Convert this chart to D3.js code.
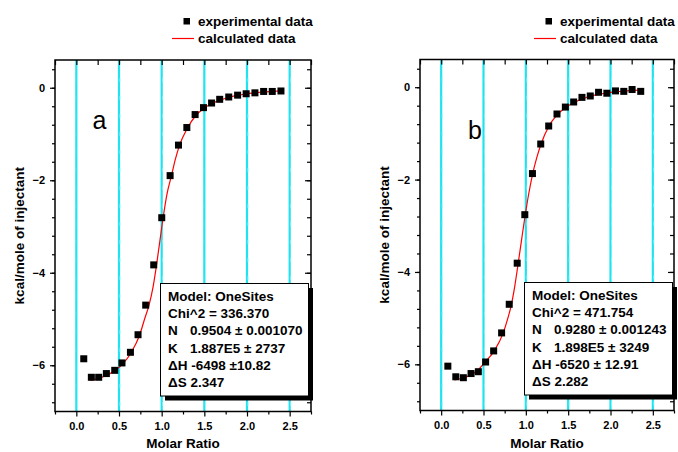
<!DOCTYPE html>
<html>
<head>
<meta charset="utf-8">
<script src="https://cdn.jsdelivr.net/npm/d3@7"></script>
<style>
  body { margin: 0; background: #fff; }
  svg { display: block; font-family: "Liberation Sans", Arial, sans-serif; }
</style>
</head>
<body>
<div id="chart"></div>
<script>
// Experimental points, panel a
const expXA = [0.087, 0.176, 0.262, 0.352, 0.45, 0.535, 0.634, 0.723, 0.813, 0.907,
  1.001, 1.099, 1.197, 1.295, 1.392, 1.49, 1.585, 1.68, 1.786, 1.89, 1.99, 2.093, 2.195, 2.296, 2.398];
const expYA = [-5.86, -6.26, -6.26, -6.18, -6.11, -5.95, -5.72, -5.34, -4.70, -3.83,
  -2.81, -1.90, -1.24, -0.86, -0.58, -0.43, -0.33, -0.25, -0.20, -0.16, -0.13, -0.11, -0.08, -0.08, -0.07];
// Fitted curve, panel a
const calcXA = [0.164, 0.3, 0.45, 0.55, 0.645, 0.743, 0.8, 0.852, 0.9, 0.94, 0.98, 1.017, 1.06, 1.115,
  1.16, 1.21, 1.3, 1.4, 1.5, 1.6, 1.7, 1.8, 1.9, 2.0, 2.1, 2.2, 2.3, 2.4];
const calcYA = [-6.33, -6.26, -6.12, -5.96, -5.72, -5.34, -5.0, -4.70, -4.3, -3.83, -3.3, -2.81, -2.32, -1.90,
  -1.55, -1.24, -0.88, -0.60, -0.44, -0.33, -0.26, -0.20, -0.16, -0.13, -0.11, -0.09, -0.08, -0.07];

// Experimental points, panel b
const expXB = [0.079, 0.173, 0.262, 0.353, 0.439, 0.525, 0.62, 0.714, 0.804, 0.898,
  0.988, 1.078, 1.176, 1.27, 1.368, 1.467, 1.565, 1.663, 1.761, 1.859, 1.957, 2.059, 2.157, 2.255, 2.357];
const expYB = [-6.04, -6.27, -6.29, -6.20, -6.16, -5.95, -5.71, -5.32, -4.70, -3.81,
  -2.76, -1.87, -1.23, -0.84, -0.58, -0.43, -0.32, -0.22, -0.19, -0.11, -0.13, -0.08, -0.09, -0.05, -0.09];
// Fitted curve, panel b
const calcXB = [0.157, 0.3, 0.42, 0.52, 0.627, 0.733, 0.78, 0.83, 0.87, 0.91, 0.95, 0.99, 1.03, 1.08,
  1.13, 1.18, 1.27, 1.37, 1.47, 1.57, 1.67, 1.77, 1.87, 1.97, 2.07, 2.17, 2.27, 2.36];
const calcYB = [-6.34, -6.27, -6.15, -5.95, -5.71, -5.32, -5.05, -4.70, -4.3, -3.81, -3.3, -2.8, -2.35, -1.88,
  -1.52, -1.23, -0.85, -0.60, -0.44, -0.33, -0.25, -0.19, -0.15, -0.12, -0.10, -0.08, -0.07, -0.06];

const xTicks = [0, 0.5, 1.0, 1.5, 2.0, 2.5];
const yTicks = [0, -2, -4, -6];
const statsA = ["Model: OneSites", "Chi^2 = 336.370", ["N", "0.9504 \u00b1 0.001070"], ["K", "1.887E5 \u00b1 2737"], "\u0394H -6498 \u00b110.82", "\u0394S 2.347"];
const statsB = ["Model: OneSites", "Chi^2 = 471.754", ["N", "0.9280 \u00b1 0.001243"], ["K", "1.898E5 \u00b1 3249"], "\u0394H -6520 \u00b1 12.91", "\u0394S 2.282"];

const W = 678, H = 452;
const svg = d3.select("#chart").append("svg").attr("width", W).attr("height", H);

function drawPanel(p) {
  const x = d3.scaleLinear().domain([-0.25, 2.75]).range([p.left, p.right]);
  const y = d3.scaleLinear().domain([-7, 0.6]).range([p.bottom, p.top]);
  const g = svg.append("g");

  // cyan vertical grid lines
  g.selectAll(".grid").data(xTicks).enter().append("line")
    .attr("x1", d => x(d)).attr("x2", d => x(d))
    .attr("y1", p.top).attr("y2", p.bottom)
    .attr("stroke", "#1fe3f0").attr("stroke-width", 2.2);
  g.selectAll(".grid2").data(xTicks).enter().append("line")
    .attr("x1", d => x(d) + 1).attr("x2", d => x(d) + 1)
    .attr("y1", p.top).attr("y2", p.bottom)
    .attr("stroke", "#8ff4fa").attr("stroke-width", 0.8)
    .attr("stroke-dasharray", "4,14");

  // axes
  const fmt = d3.format(".1f");
  g.append("g").attr("transform", `translate(0,${p.bottom})`)
    .call(d3.axisBottom(x).tickValues(xTicks).tickFormat(fmt).tickSize(5).tickPadding(6));
  g.append("g").attr("transform", `translate(0,${p.bottom})`)
    .call(d3.axisBottom(x).tickValues(d3.range(-0.25, 2.8, 0.5)).tickFormat("").tickSize(3));
  g.append("g").attr("transform", `translate(0,${p.top})`)
    .call(d3.axisBottom(x).tickValues(d3.range(-0.25, 2.8, 0.25)).tickFormat("").tickSize(5));
  g.append("g").attr("transform", `translate(${p.left},0)`)
    .call(d3.axisLeft(y).tickValues(yTicks).tickFormat(d3.format("d")).tickSize(5).tickPadding(5));
  g.append("g").attr("transform", `translate(${p.left},0)`)
    .call(d3.axisLeft(y).tickValues(d3.range(-6.8, 0.5, 0.4)).tickFormat("").tickSize(3));
  g.append("g").attr("transform", `translate(${p.right},0)`)
    .call(d3.axisLeft(y).tickValues(yTicks).tickFormat("").tickSize(6));
  g.append("g").attr("transform", `translate(${p.right},0)`)
    .call(d3.axisLeft(y).tickValues(d3.range(-6.8, 0.5, 0.4)).tickFormat("").tickSize(4));
  g.selectAll(".domain").remove();
  g.selectAll(".tick line").attr("stroke", "#000").attr("stroke-width", 1.2);
  g.selectAll(".tick text").attr("font-size", 11).attr("font-weight", "bold").attr("fill", "#000")
    .attr("font-family", "Liberation Sans, Arial, sans-serif");

  // frame
  g.append("rect").attr("x", p.left).attr("y", p.top)
    .attr("width", p.right - p.left).attr("height", p.bottom - p.top)
    .attr("fill", "none").attr("stroke", "#000").attr("stroke-width", 1.5);

  // fitted curve
  const curve = p.calcX.map((d, i) => [d, p.calcY[i]]);
  g.append("path").datum(curve)
    .attr("d", d3.line().x(d => x(d[0])).y(d => y(d[1])).curve(d3.curveMonotoneX))
    .attr("fill", "none").attr("stroke", "#f00").attr("stroke-width", 1.2);

  // experimental squares
  const pts = p.expX.map((d, i) => [d, p.expY[i]]);
  g.selectAll(".pt").data(pts).enter().append("rect")
    .attr("x", d => x(d[0]) - 3.5).attr("y", d => y(d[1]) - 3.5)
    .attr("width", 7).attr("height", 7).attr("fill", "#000");

  // panel letter
  g.append("text").attr("x", p.letterX).attr("y", p.letterY)
    .attr("font-size", 25).attr("font-weight", "normal").text(p.letter);

  // axis titles
  g.append("text").attr("transform", `translate(${p.left - 31},${(p.top + p.bottom) / 2}) rotate(-90)`)
    .attr("text-anchor", "middle").attr("font-size", 13.5).attr("font-weight", "bold").text("kcal/mole of injectant");
  g.append("text").attr("x", (p.left + p.right) / 2).attr("y", 448)
    .attr("text-anchor", "middle").attr("font-size", 13.5).attr("font-weight", "bold").text("Molar Ratio");

  // legend
  const lg = svg.append("g").attr("transform", `translate(${p.legX},0)`)
    .attr("font-size", 13.5).attr("font-weight", "bold");
  lg.append("rect").attr("x", -14.5).attr("y", 18).attr("width", 6.5).attr("height", 6.5).attr("fill", "#000");
  lg.append("text").attr("x", 0).attr("y", 25.5).text("experimental data");
  lg.append("line").attr("x1", -26).attr("x2", -4).attr("y1", 38.5).attr("y2", 38.5)
    .attr("stroke", "#f00").attr("stroke-width", 1.2);
  lg.append("text").attr("x", 0).attr("y", 42.5).text("calculated data");

  // stats box
  const b = p.box;
  g.append("rect").attr("x", b.x + 4.5).attr("y", b.y + 4.5).attr("width", b.w).attr("height", b.h).attr("fill", "#000");
  g.append("rect").attr("x", b.x).attr("y", b.y).attr("width", b.w).attr("height", b.h)
    .attr("fill", "#fff").attr("stroke", "#000").attr("stroke-width", 1);
  p.stats.forEach((s, i) => {
    const t = g.append("text").attr("x", b.x + 7.5).attr("y", b.y + 17.5 + i * 17.2)
      .attr("font-size", 13.5).attr("font-weight", "bold");
    if (Array.isArray(s)) {
      t.append("tspan").text(s[0]);
      t.append("tspan").attr("x", b.x + 29.5).text(s[1]);
    } else {
      t.text(s);
    }
  });
}

drawPanel({
  left: 55, right: 311, top: 60, bottom: 411.5,
  expX: expXA, expY: expYA, calcX: calcXA, calcY: calcYA,
  letter: "a", letterX: 92.5, letterY: 128.5,
  legX: 198,
  box: { x: 160.5, y: 283.5, w: 148, h: 112.5 },
  stats: statsA
});
drawPanel({
  left: 420, right: 674, top: 59.5, bottom: 410.5,
  expX: expXB, expY: expYB, calcX: calcXB, calcY: calcYB,
  letter: "b", letterX: 468, letterY: 139,
  legX: 560,
  box: { x: 524.5, y: 282.5, w: 148, h: 112.5 },
  stats: statsB
});
</script>
</body>
</html>
